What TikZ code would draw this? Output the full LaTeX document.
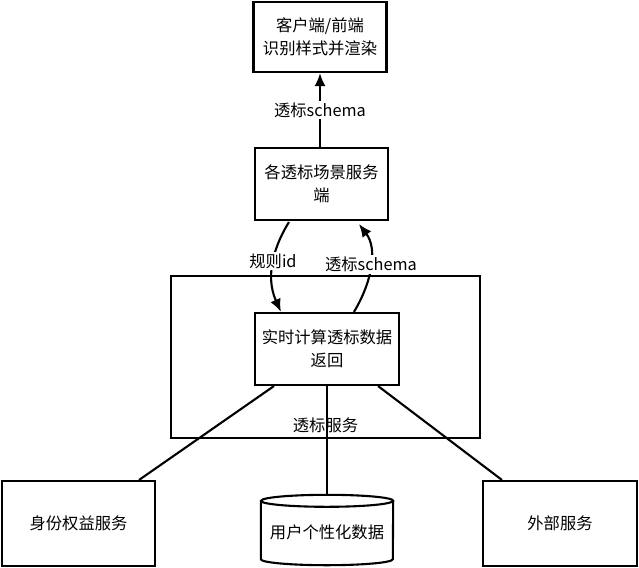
\documentclass[tikz,border=0pt]{standalone}
\usepackage{fontspec}
\setmainfont{Noto Sans CJK SC}
\usetikzlibrary{calc,arrows.meta}
\tikzset{
  box/.style={draw=black, line width=2.1pt, fill=white, align=center, inner sep=0pt},
  lbl/.style={fill=white, inner sep=2pt},
  conn/.style={line width=2.1pt},
  arr/.style={line width=2.1pt, -{Latex[length=13pt,width=11pt]}},
}
\begin{document}
\begin{tikzpicture}[x=1pt,y=-1pt,font=\fontsize{16.3}{23}\selectfont]
\useasboundingbox (0,0) rectangle (639,567);
% container
\node[box, fill=none, minimum width=309pt, minimum height=162pt] (svc) at (325.5,357) {};
\node[anchor=south] (svclbl) at ([yshift=3pt]svc.south) {透标服务};
% boxes
\node[box, minimum width=133pt, minimum height=70pt] (top) at (320,37) {客户端/前端\\识别样式并渲染};
\node[box, minimum width=133pt, minimum height=72pt] (mid) at (321.5,184) {各透标场景服务\\端};
\node[box, minimum width=144pt, minimum height=72pt] (inner) at (327,349) {实时计算透标数据\\返回};
\node[box, minimum width=153pt, minimum height=85pt] (left) at (78.5,523.5) {身份权益服务};
\node[box, minimum width=154pt, minimum height=85pt] (right) at (560,523.5) {外部服务};
% cylinder
\node[minimum width=132pt, minimum height=58pt, inner sep=0pt] (db) at (327,530) {};
\coordinate (dbtop) at ($(db.north)+(0,-6)$);
\draw[conn, fill=white] (db.north west) -- (db.south west)
  arc[start angle=180, end angle=360, x radius=66pt, y radius=6pt]
  -- (db.north east)
  arc[start angle=0, end angle=180, x radius=66pt, y radius=6pt] -- cycle;
\draw[conn] (db.north west) arc[start angle=180, end angle=360, x radius=66pt, y radius=6pt];
\node (dblbl) at ($(db.center)+(0,2)$) {用户个性化数据};
% top arrow
\draw[arr] (top.south |- mid.north) -- node[lbl] (l1) {透标schema} (top.south);
% curved arrows
\draw[arr] ($(mid.south west)+(35,1)$) .. controls ($(mid.south west)+(22,22)$) and ($(inner.north west)+(10,-38)$) .. ($(inner.north west)+(27,0)$);
\draw[arr] ($(inner.north west)+(100,0)$) .. controls ($(inner.north west)+(118,-30)$) and ($(mid.south west)+(124,28)$) .. ($(mid.south west)+(105,3)$);
\node[lbl] (l2) at (273,261) {规则id};
\node[lbl] (l3) at (371,264) {透标schema};
% bottom connectors
\draw[conn] ([xshift=20pt]inner.south west) -- ([xshift=-17pt]left.north east);
\draw[conn] ([xshift=-22pt]inner.south east) -- ([xshift=20pt]right.north west);
\draw[conn] (inner.south) -- (dbtop);
\end{tikzpicture}
\end{document}
